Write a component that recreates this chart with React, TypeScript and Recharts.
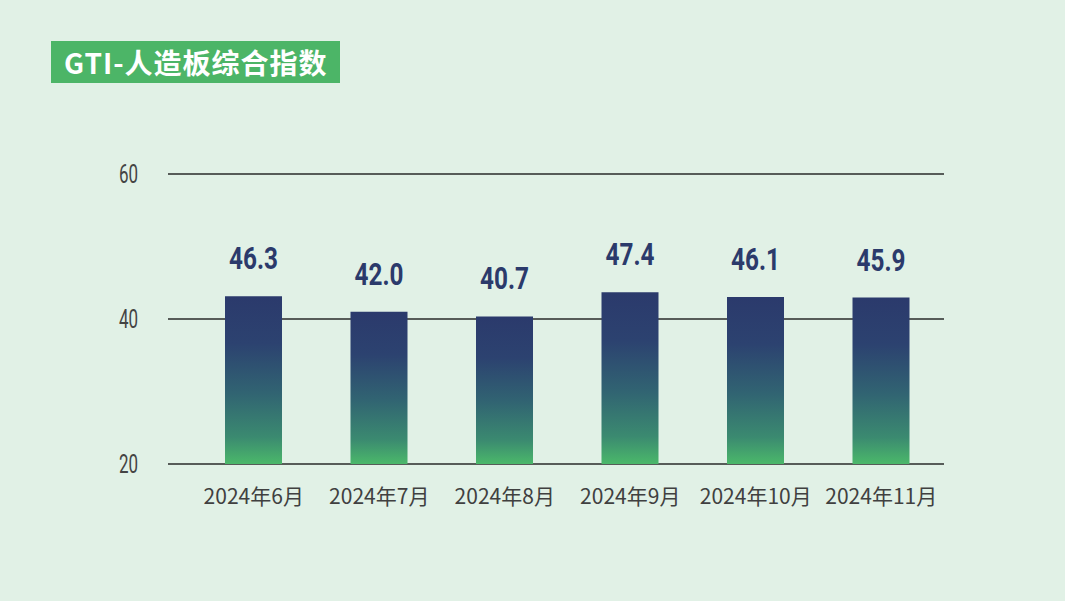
import React from 'react';
import { BarChart, Bar, XAxis, YAxis, CartesianGrid, LabelList } from 'recharts';

const categories = ['2024年6月', '2024年7月', '2024年8月', '2024年9月', '2024年10月', '2024年11月'];
const values = [46.3, 42.0, 40.7, 47.4, 46.1, 45.9];
const yTicks = [20, 40, 60];

const data = categories.map((c, i) => ({ month: c, value: values[i] }));

const NUM = 'Roboto, "DejaVu Sans", sans-serif';
const CJK = '"Noto Sans CJK SC", "Noto Sans", sans-serif';

const YTick = (props: any) => {
  const { x, y, payload } = props;
  return (
    <g transform={`translate(${Number(x) + 60},${y})`}>
      <text
        x={0}
        y={0}
        dy="0.36em"
        textAnchor="end"
        fill="#444444"
        fontSize={25}
        fontFamily={NUM}
        transform="scale(0.68,1)"
      >
        {payload.value}
      </text>
    </g>
  );
};

const ValueLabel = (props: any) => {
  const { x, y, width, value } = props;
  const cx = Number(x) + Number(width) / 2;
  const cy = Number(y) - 27;
  return (
    <g transform={`translate(${cx},${cy})`}>
      <text
        x={0}
        y={0}
        textAnchor="middle"
        fill="#2b3a6b"
        fontSize={32}
        fontWeight={700}
        fontFamily={NUM}
        transform="scale(0.76,1)"
      >
        {Number(value).toFixed(1)}
      </text>
    </g>
  );
};

export default function App() {
  return (
    <div
      style={{
        position: 'absolute',
        left: 0,
        top: 0,
        width: 1065,
        height: 601,
        background: '#e1f1e6',
        overflow: 'hidden',
      }}
    >
      <div
        style={{
          position: 'absolute',
          left: 51,
          top: 41,
          width: 289,
          height: 42,
          background: '#4cb567',
          color: '#ffffff',
          fontFamily: CJK,
          fontWeight: 700,
          fontSize: 28,
          letterSpacing: 1,
          lineHeight: '42px',
          paddingLeft: 13,
          boxSizing: 'border-box',
          whiteSpace: 'nowrap',
        }}
      >
        GTI-人造板综合指数
      </div>
      <BarChart
        width={1065}
        height={601}
        data={data}
        margin={{ top: 174, right: 121, bottom: 107, left: 108 }}
        style={{ position: 'absolute', left: 0, top: 0 }}
      >
        <defs>
          <linearGradient id="barGrad" x1="0" y1="0" x2="0" y2="1">
            <stop offset="0%" stopColor="#2b3a6c" />
            <stop offset="28%" stopColor="#2c4270" />
            <stop offset="58%" stopColor="#316472" />
            <stop offset="84%" stopColor="#3b8a70" />
            <stop offset="100%" stopColor="#4bb86a" />
          </linearGradient>
        </defs>
        <CartesianGrid yAxisId="left" vertical={false} stroke="#575c59" strokeWidth={2} />
        <XAxis
          dataKey="month"
          height={30}
          axisLine={false}
          tickLine={false}
          tickSize={0}
          tickMargin={25}
          padding={{ left: 23, right: 0 }}
          interval={0}
          tick={{ fill: '#404040', fontSize: 21, fontFamily: CJK }}
        />
        <YAxis
          yAxisId="left"
          type="number"
          domain={[20, 60]}
          allowDataOverflow
          ticks={yTicks}
          width={60}
          axisLine={false}
          tickLine={false}
          tickSize={0}
          tickMargin={30}
          tick={<YTick />}
        />
        <YAxis yAxisId="bar" type="number" hide domain={[0, 80]} allowDataOverflow />
        <Bar yAxisId="bar" dataKey="value" barSize={57} fill="url(#barGrad)" isAnimationActive={false}>
          <LabelList dataKey="value" content={<ValueLabel />} />
        </Bar>
      </BarChart>
    </div>
  );
}
